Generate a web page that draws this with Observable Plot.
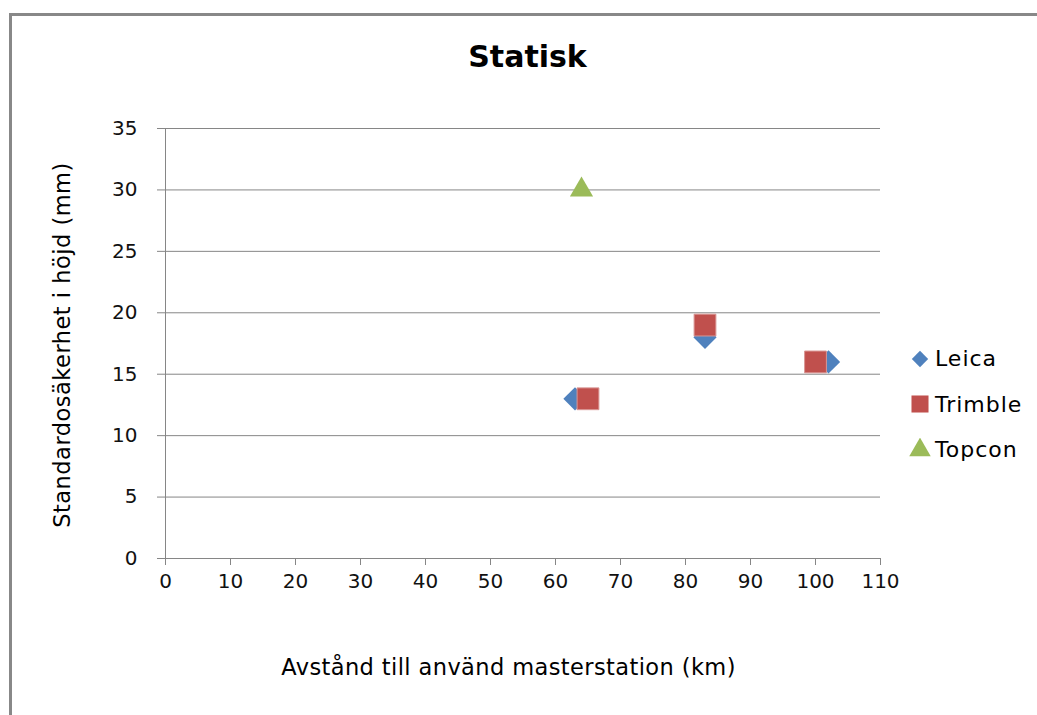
<!DOCTYPE html>
<html>
<head>
<meta charset="utf-8">
<script src="https://cdn.jsdelivr.net/npm/d3@7"></script>
<script src="https://cdn.jsdelivr.net/npm/@observablehq/plot@0.6"></script>
<style>
  html, body { margin: 0; padding: 0; background: #fff; }
  #wrap { position: relative; width: 1037px; height: 715px; overflow: hidden; background: #fff; font-family: "DejaVu Sans", sans-serif; }
  #frame { position: absolute; left: 9px; top: 13px; width: 1100px; height: 800px; border-left: 3px solid #888; border-top: 3px solid #888; box-sizing: border-box; pointer-events: none; }
  #title { position: absolute; left: 0; width: 1055px; top: 39px; text-align: center; font-size: 30px; font-weight: bold; color: #000; line-height: 36px; }
  #chart { position: absolute; left: 0; top: 0; }
  #xlabel { position: absolute; left: 151px; width: 715px; top: 652px; text-align: center; font-size: 22.5px; letter-spacing: 0.4px; line-height: 30px; color: #000; white-space: nowrap; }
  #ylabel { position: absolute; left: 62px; top: 345px; transform: translate(-50%, -50%) rotate(-90deg); font-size: 22.5px; letter-spacing: 0.5px; line-height: 30px; color: #000; white-space: nowrap; }
  #legend { position: absolute; left: 908px; top: 336px; }
  .item { display: flex; align-items: center; height: 45.5px; font-size: 22px; letter-spacing: 1px; color: #000; }
  .item svg { margin-right: 3px; }
</style>
</head>
<body>
<div id="wrap">
  <div id="chart"></div>
  <div id="frame"></div>
  <div id="title">Statisk</div>
  <div id="xlabel"></div>
  <div id="ylabel"></div>
  <div id="legend"></div>
</div>
<script>
const seriesNames = ["Leica", "Trimble", "Topcon"];
const seriesColors = ["#4F81BD", "#C0504D", "#9BBB59"];
const seriesSymbols = ["diamond2", "square", "triangle"];
const seriesR = [10.5, 12.3, 8.6];

const leicaX = [63, 83, 102];
const leicaY = [13, 18, 16];
const trimbleX = [65, 83, 100];
const trimbleY = [13, 19, 16];
const topconX = [64];
const topconY = [30];

const xTicks = [0, 10, 20, 30, 40, 50, 60, 70, 80, 90, 100, 110];
const yTicks = [0, 5, 10, 15, 20, 25, 30, 35];

const xLabel = "Avstånd till använd masterstation (km)";
const yLabel = "Standardosäkerhet i höjd (mm)";

const toRows = (xs, ys, s) => xs.map((x, i) => ({x, y: ys[i], s}));
const sets = [
  toRows(leicaX, leicaY, 0),
  toRows(trimbleX, trimbleY, 1),
  toRows(topconX, topconY, 2)
];

const chart = Plot.plot({
  width: 1037,
  height: 715,
  marginLeft: 165,
  marginRight: 157,
  marginTop: 128,
  marginBottom: 157,
  style: { fontFamily: "DejaVu Sans, sans-serif", fontSize: "20px", background: "transparent", overflow: "visible" },
  x: { domain: [0, 110], ticks: xTicks },
  y: { domain: [0, 35], ticks: yTicks },
  marks: [
    Plot.gridY(yTicks, { stroke: "#868686", strokeOpacity: 1, strokeWidth: 1 }),
    Plot.ruleX([0], { stroke: "#868686" }),
    Plot.ruleY([0], { stroke: "#868686" }),
    Plot.axisX(xTicks, { tickSize: 7, tickPadding: 8, stroke: "#868686", fill: "#111", label: null, fontSize: 20 }),
    Plot.axisY(yTicks, { tickSize: 8, tickPadding: 20, stroke: "#868686", fill: "#111", label: null, fontSize: 20 }),
    ...sets.map((rows, k) => Plot.dot(rows, {
      x: "x", y: "y",
      symbol: () => seriesSymbols[k],
      r: seriesR[k],
      fill: seriesColors[k],
      stroke: k === 1 ? "#D99694" : "none",
      strokeWidth: k === 1 ? 1 : 0
    }))
  ]
});
document.getElementById("chart").appendChild(chart);

document.getElementById("xlabel").textContent = xLabel;
document.getElementById("ylabel").textContent = yLabel;

// legend
const legend = document.getElementById("legend");
seriesNames.forEach((name, k) => {
  const item = document.createElement("div");
  item.className = "item";
  const sym = d3.create("svg").attr("width", 24).attr("height", 24);
  const symType = {diamond2: d3.symbolDiamond2, square: d3.symbolSquare, triangle: d3.symbolTriangle}[seriesSymbols[k]];
  const size = [170, 290, 200][k];
  sym.append("path")
    .attr("transform", "translate(12,12)")
    .attr("d", d3.symbol(symType, size)())
    .attr("fill", seriesColors[k]);
  item.appendChild(sym.node());
  const span = document.createElement("span");
  span.textContent = name;
  item.appendChild(span);
  legend.appendChild(item);
});
</script>
</body>
</html>
